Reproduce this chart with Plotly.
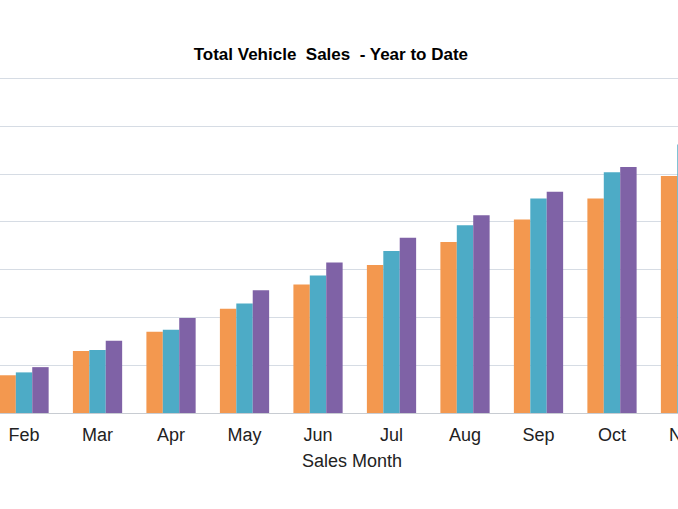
import plotly.graph_objects as go

months = ["Jan", "Feb", "Mar", "Apr", "May", "Jun", "Jul", "Aug", "Sep", "Oct", "Nov", "Dec"]
series_names = ["Year 1", "Year 2", "Year 3"]
year1 = [3.9, 7.9, 13.0, 17.0, 21.8, 26.9, 31.0, 35.8, 40.5, 44.9, 49.6, 54.0]
year2 = [4.2, 8.5, 13.2, 17.4, 22.9, 28.8, 33.9, 39.3, 44.9, 50.4, 56.2, 61.0]
year3 = [4.8, 9.6, 15.1, 19.9, 25.7, 31.5, 36.7, 41.4, 46.3, 51.5, 57.5, 63.0]
colors = ["#F3984F", "#4DABC6", "#7F62A6"]

x_lo, x_hi = 0.673, 9.898
plot_h = 509 - 69 - 96

fig = go.Figure()
for name, vals, c in zip(series_names, [year1, year2, year3], colors):
    fig.add_trace(go.Bar(x=months, y=vals, name=name, marker=dict(color=c, line=dict(width=0))))

# label of the partially visible month at the right edge
nov_idx = months.index("Nov")
nov_paper_x = (nov_idx - x_lo) / (x_hi - x_lo)

fig.update_layout(
    width=678, height=509,
    margin=dict(l=0, r=0, t=69, b=96),
    paper_bgcolor="white", plot_bgcolor="white",
    barmode="group", bargap=0.33, bargroupgap=0,
    showlegend=False,
    title=dict(text="<b>Total Vehicle  Sales  - Year to Date</b>", x=0.488, xanchor="center",
               y=1 - 54 / 509, yanchor="middle",
               font=dict(family="Liberation Sans, Arial", size=17, color="#000000")),
    font=dict(family="Liberation Sans, Arial", color="#222222"),
    annotations=[
        dict(text="Sales Month", x=352 / 678, xref="paper", xanchor="center",
             y=-48 / plot_h, yref="paper", yanchor="middle", showarrow=False,
             font=dict(size=18, color="#222222")),
        dict(text="Nov", x=nov_paper_x, xref="paper", xanchor="center",
             y=-22 / plot_h, yref="paper", yanchor="middle", showarrow=False,
             font=dict(size=18, color="#222222")),
    ],
)
fig.update_xaxes(
    range=[x_lo, x_hi], showgrid=False, showline=True, linecolor="#C8CCD2", linewidth=1,
    ticks="", tickfont=dict(size=18, color="#222222"), ticklabelstandoff=5,
)
fig.update_yaxes(
    range=[0, 72], dtick=10, showgrid=True, gridcolor="#D6DCE4", gridwidth=1,
    showticklabels=False, zeroline=False, ticks="",
)
fig.write_html("out.html", config={"displayModeBar": False},
               post_script="document.body.style.margin='0';document.body.style.overflow='hidden';")
